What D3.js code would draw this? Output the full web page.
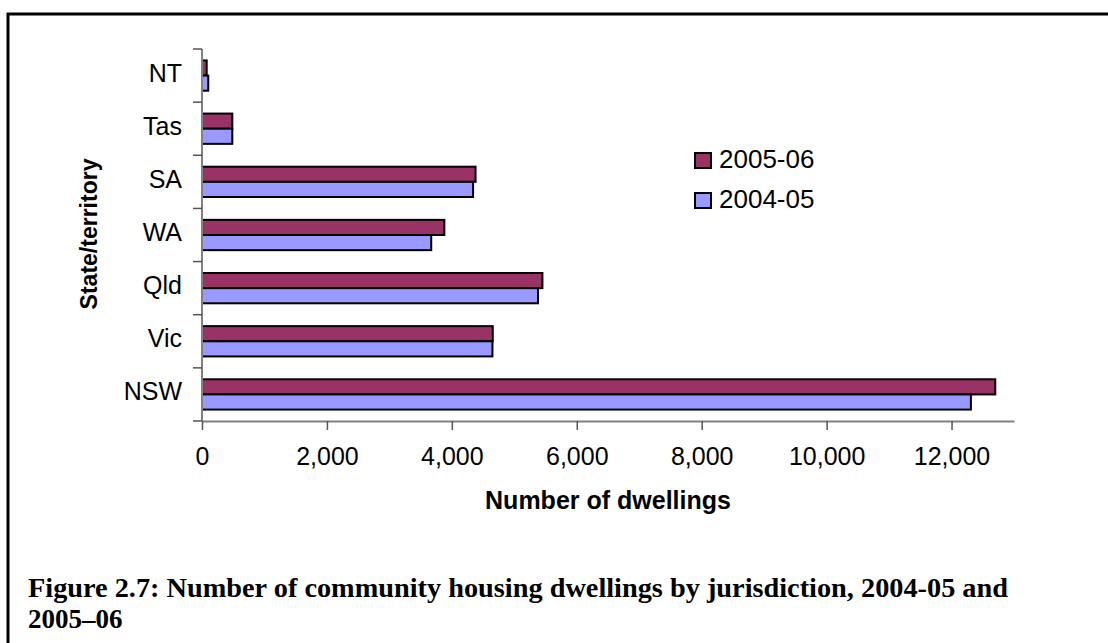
<!DOCTYPE html>
<html>
<head>
<meta charset="utf-8">
<script src="https://cdn.jsdelivr.net/npm/d3@7"></script>
<style>
  body { margin: 0; background: #fff; }
  .sans { font-family: "Liberation Sans", Arial, sans-serif; }
  .serif { font-family: "Liberation Serif", "Times New Roman", serif; }
</style>
</head>
<body>
<div id="chart"></div>
<script>
var width = 1108;
var height = 643;

// data
const states = ["NT", "Tas", "SA", "WA", "Qld", "Vic", "NSW"];
const seriesNames = ["2005-06", "2004-05"];
const values0506 = [75, 485, 4380, 3880, 5450, 4655, 12700];
const values0405 = [100, 485, 4340, 3670, 5380, 4650, 12310];
const xTicks = [0, 2000, 4000, 6000, 8000, 10000, 12000];
const colors = { "2005-06": "#993366", "2004-05": "#9999FF" };

let data = states.map((s, i) => ({
    state: s,
    values: [
        { key: "2005-06", value: values0506[i] },
        { key: "2004-05", value: values0405[i] }
    ]
}));

var svg = d3.select("#chart")
            .append("svg")
              .attr("width", width).attr("height", height)
              .attr("class", "sans");

// outer frame (runs off right/bottom edges)
svg.append("rect").attr("x", 8).attr("y", 14)
    .attr("width", 1200).attr("height", 800)
    .attr("fill", "none").attr("stroke", "#000").attr("stroke-width", 3);

let x = d3.scaleLinear().domain([0, 13000]).range([202, 1014]);
let y = d3.scaleBand().domain(states).range([49, 421])
    .paddingInner(0.43).paddingOuter(0.215);
let ySub = d3.scaleBand().domain(seriesNames).range([0, y.bandwidth()]);

// bars
let groups = svg.append("g").selectAll(".grp").data(data)
    .join("g").attr("class", "grp")
    .attr("transform", d => `translate(0,${y(d.state)})`);

groups.selectAll("rect").data(d => d.values)
    .join("rect")
    .attr("x", x(0))
    .attr("y", d => ySub(d.key))
    .attr("width", d => x(d.value) - x(0))
    .attr("height", ySub.bandwidth())
    .attr("fill", d => colors[d.key])
    .attr("stroke", "#000").attr("stroke-width", 2);

// x axis
let xAxis = svg.append("g").attr("transform", `translate(0,421)`)
    .call(d3.axisBottom(x).tickValues(xTicks).tickFormat(d3.format(","))
        .tickSize(9).tickSizeOuter(0).tickPadding(17));
xAxis.attr("font-family", null).attr("font-size", null);
xAxis.select(".domain").attr("stroke", "#808080").attr("stroke-width", 2);
xAxis.selectAll(".tick line").attr("stroke", "#555").attr("stroke-width", 1.5);
xAxis.selectAll(".tick text").attr("font-size", 25).attr("fill", "#000");

// y axis: line, boundary ticks, category labels
let yAxis = svg.append("g");
yAxis.append("line").attr("x1", x(0)).attr("x2", x(0))
    .attr("y1", y.range()[0]).attr("y2", y.range()[1])
    .attr("stroke", "#808080").attr("stroke-width", 2);

let bounds = states.map(s => y(s) - y.step() * y.paddingOuter()).concat([y.range()[1]]);
yAxis.selectAll(".ytick").data(bounds).join("line")
    .attr("class", "ytick")
    .attr("x1", x(0) - 9).attr("x2", x(0))
    .attr("y1", d => d).attr("y2", d => d)
    .attr("stroke", "#555").attr("stroke-width", 1.5);

yAxis.selectAll(".ylab").data(states).join("text")
    .attr("class", "ylab")
    .attr("x", 182)
    .attr("y", d => y(d) + y.bandwidth() / 2 + 6)
    .attr("text-anchor", "end")
    .attr("font-size", 25)
    .text(d => d);

// axis titles
svg.append("text").attr("x", 608).attr("y", 509)
    .attr("text-anchor", "middle").attr("font-size", 25).attr("font-weight", "bold")
    .text("Number of dwellings");

svg.append("text")
    .attr("transform", "translate(97,234) rotate(-90)")
    .attr("text-anchor", "middle").attr("font-size", 23).attr("font-weight", "bold")
    .text("State/territory");

// legend
let legend = svg.append("g").selectAll(".leg").data(seriesNames)
    .join("g").attr("class", "leg")
    .attr("transform", (d, i) => `translate(695,${153 + i * 40})`);
legend.append("rect").attr("width", 16).attr("height", 15)
    .attr("fill", d => colors[d]).attr("stroke", "#000").attr("stroke-width", 2);
legend.append("text").attr("x", 24).attr("y", 15)
    .attr("font-size", 26).text(d => d);

// caption
let caption = svg.append("g").attr("class", "serif");
caption.append("text").attr("x", 28).attr("y", 597)
    .attr("font-size", 27).attr("font-weight", "bold")
    .attr("textLength", 980).attr("lengthAdjust", "spacingAndGlyphs")
    .text("Figure 2.7: Number of community housing dwellings by jurisdiction, 2004-05 and");
caption.append("text").attr("x", 28).attr("y", 628)
    .attr("font-size", 27).attr("font-weight", "bold")
    .text("2005\u201306");
</script>
</body>
</html>
